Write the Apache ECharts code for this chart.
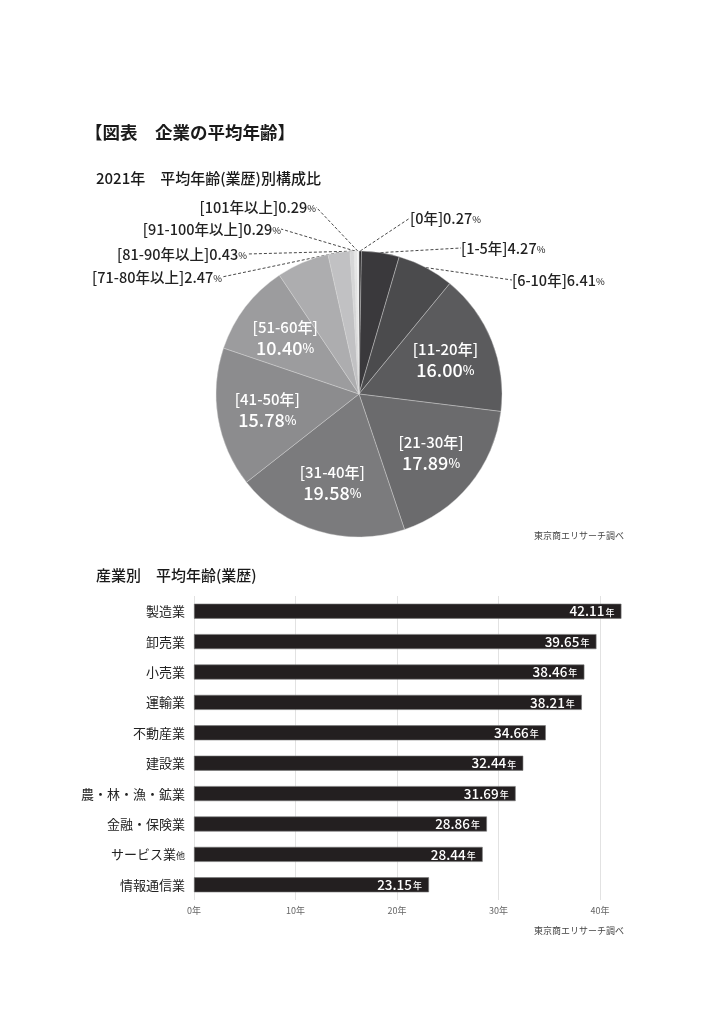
<!DOCTYPE html>
<html><head><meta charset="utf-8">
<script src="https://cdn.jsdelivr.net/npm/echarts@6/dist/echarts.min.js"></script>
<style>html,body{margin:0;padding:0;background:#fff}#c{width:724px;height:1024px}</style>
</head><body><div id="c"></div>
<script>
// ---- Pie data ----
const pieCategories = ['0年','1-5年','6-10年','11-20年','21-30年','31-40年','41-50年','51-60年','61-70年','71-80年以上','81-90年以上','91-100年以上','101年以上'];
const pieValues = [0.27, 4.27, 6.41, 16.00, 17.89, 19.58, 15.78, 10.40, 5.92, 2.47, 0.43, 0.29, 0.29];
const pieColors = ['#1c1b1d','#3a393c','#4b4b4d','#5b5b5d','#6b6b6d','#7b7b7d','#8c8c8e','#9c9c9e','#adadaf','#c1c1c3','#d6d6d7','#e6e6e6','#f3f3f3'];
const pieInside = ['11-20年','21-30年','31-40年','41-50年','51-60年'];
const pieOutside = ['0年','1-5年','6-10年','71-80年以上','81-90年以上','91-100年以上','101年以上'];

// ---- Bar data ----
const barCategories = ['製造業','卸売業','小売業','運輸業','不動産業','建設業','農・林・漁・鉱業','金融・保険業','サービス業他','情報通信業'];
const barValues = [42.11, 39.65, 38.46, 38.21, 34.66, 32.44, 31.69, 28.86, 28.44, 23.15];
const xTicks = [0, 10, 20, 30, 40];

// label placement for outside pie labels (layout, not data)
const outsidePos = {
  '0年': {x: 410, y: 218, align: 'left'},
  '1-5年': {x: 461, y: 248, align: 'left'},
  '6-10年': {x: 512, y: 280, align: 'left'},
  '71-80年以上': {x: 222, y: 277, align: 'right'},
  '81-90年以上': {x: 247, y: 254, align: 'right'},
  '91-100年以上': {x: 281, y: 229, align: 'right'},
  '101年以上': {x: 316, y: 207, align: 'right'}
};

const FONT = '"Noto Sans CJK JP", "Noto Sans", sans-serif';
const chart = echarts.init(document.getElementById('c'), null, {renderer: 'canvas'});

const pieData1 = pieCategories.map((n, i) => ({
  name: n, value: pieValues[i],
  itemStyle: {color: pieColors[i]},
  label: {show: pieOutside.indexOf(n) >= 0},
  labelLine: {show: pieOutside.indexOf(n) >= 0}
}));
const pieData2 = pieCategories.map((n, i) => ({
  name: n, value: pieValues[i],
  label: {show: pieInside.indexOf(n) >= 0}
}));

const option = {
  backgroundColor: '#fff',
  animation: false,
  textStyle: {fontFamily: FONT},
  title: [
    {text: '【図表　企業の平均年齢】', left: 80, top: 119, textStyle: {fontSize: 17.5, fontWeight: 'bold', color: '#1a1a1a', fontFamily: FONT}},
    {text: '2021年　平均年齢(業歴)別構成比', left: 91, top: 166, textStyle: {fontSize: 15, fontWeight: 500, color: '#1a1a1a', fontFamily: FONT}},
    {text: '東京商エリサーチ調べ', right: 95, top: 526, textStyle: {fontSize: 9, fontWeight: 'normal', color: '#444', fontFamily: FONT}},
    {text: '産業別　平均年齢(業歴)', left: 91, top: 563, textStyle: {fontSize: 15, fontWeight: 500, color: '#1a1a1a', fontFamily: FONT}},
    {text: '東京商エリサーチ調べ', right: 95, top: 921, textStyle: {fontSize: 9, fontWeight: 'normal', color: '#444', fontFamily: FONT}}
  ],
  grid: {left: 194, width: 406, top: 596, height: 304, containLabel: false},
  xAxis: {
    type: 'value', min: 0, max: 40, interval: 10,
    axisLine: {show: false}, axisTick: {show: false},
    splitLine: {show: true, lineStyle: {color: '#e2e2e2', width: 1}},
    axisLabel: {formatter: v => v + '年', fontSize: 9, color: '#666', margin: 6, fontFamily: FONT}
  },
  yAxis: {
    type: 'category', data: barCategories, inverse: true,
    axisLine: {show: false}, axisTick: {show: false},
    axisLabel: {
      fontSize: 13, color: '#222', margin: 9, fontFamily: FONT,
      formatter: v => v.endsWith('他') ? v.slice(0, -1) + '{s|他}' : v,
      rich: {s: {fontSize: 9, color: '#222', fontFamily: FONT, padding: [2, 0, 0, 0]}}
    }
  },
  series: [
    {
      type: 'bar', data: barValues, barWidth: 15, clip: false,
      itemStyle: {color: '#231f20', borderColor: '#777', borderWidth: 0.6},
      label: {
        show: true, position: 'insideRight', distance: 7,
        formatter: p => '{n|' + p.value.toFixed(2) + '}{u|年}',
        rich: {
          n: {fontSize: 13.5, color: '#fff', fontFamily: FONT, fontWeight: 500},
          u: {fontSize: 9, color: '#fff', fontFamily: FONT, fontWeight: 500, padding: [2, 0, 0, 1]}
        }
      },
      silent: true
    },
    {
      type: 'pie', center: [359, 394], radius: [0, 143], startAngle: 90, clockwise: true,
      data: pieData1, silent: true, avoidLabelOverlap: false,
      itemStyle: {borderColor: '#d8d8d8', borderWidth: 0.4},
      label: {
        position: 'outside', color: '#222', fontFamily: FONT,
        formatter: p => '{a|[' + p.name + ']' + p.value.toFixed(2) + '}{p|%}',
        rich: {
          a: {fontSize: 14.5, color: '#222', fontFamily: FONT, fontWeight: 500},
          p: {fontSize: 9.5, color: '#222', fontFamily: FONT, padding: [2, 0, 0, 0]}
        }
      },
      labelLine: {show: true, length: 8, length2: 0, smooth: false, lineStyle: {color: '#333', width: 0.9, type: [3, 2]}},
      labelLayout: function (params) {
        const name = pieCategories[params.dataIndex];
        const p = outsidePos[name];
        if (!p) return {};
        return {x: p.x, y: p.y, align: p.align, verticalAlign: 'middle'};
      }
    },
    {
      type: 'pie', center: [359, 394], radius: [0, 180], startAngle: 90, clockwise: true,
      data: pieData2, silent: true, z: 5,
      itemStyle: {color: 'rgba(0,0,0,0)', borderWidth: 0},
      emphasis: {disabled: true},
      labelLine: {show: false},
      label: {
        position: 'inside', fontFamily: FONT, lineHeight: 21,
        formatter: p => '{a|[' + p.name + ']}\n{b|' + p.value.toFixed(2) + '}{p|%}',
        rich: {
          a: {fontSize: 15, color: '#fff', fontFamily: FONT, fontWeight: 500, lineHeight: 21},
          b: {fontSize: 18, color: '#fff', fontFamily: FONT, fontWeight: 500, lineHeight: 21},
          p: {fontSize: 12.5, color: '#fff', fontFamily: FONT, fontWeight: 500, lineHeight: 21}
        }
      }
    }
  ]
};
chart.setOption(option);
</script>
</body></html>
